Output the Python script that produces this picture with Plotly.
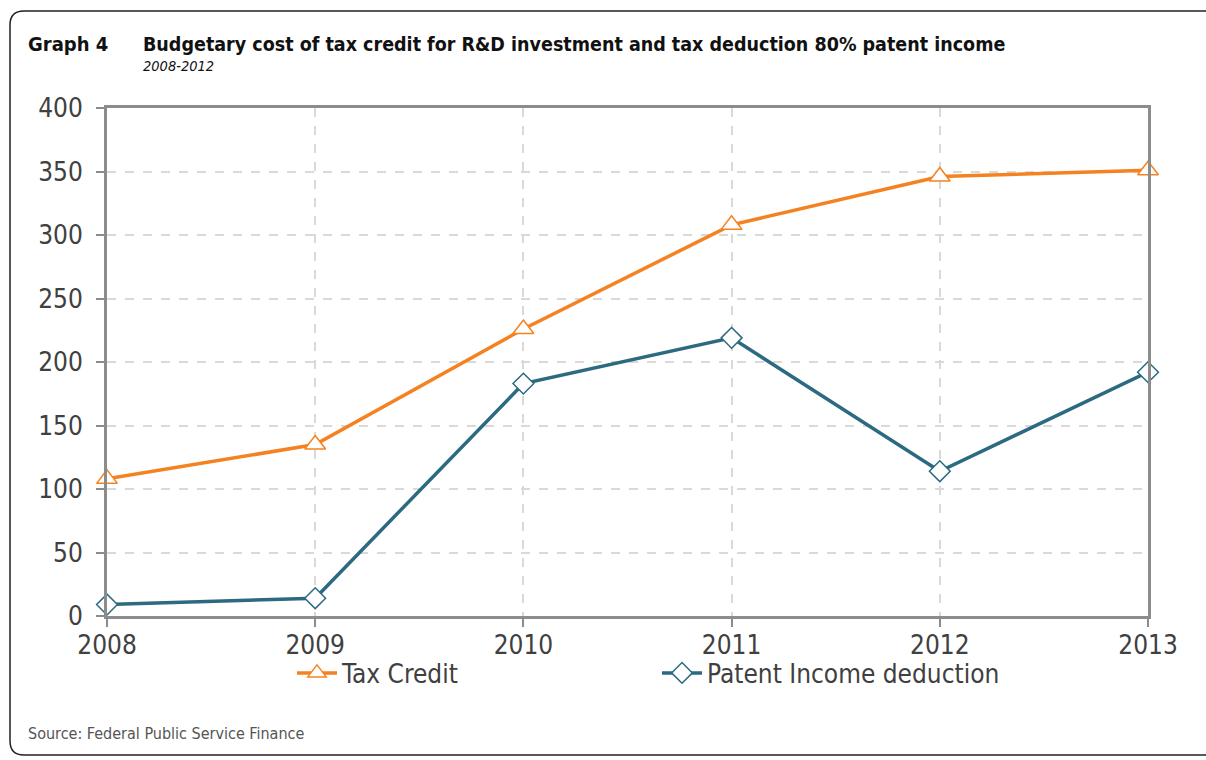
import plotly.graph_objects as go

years = [2008, 2009, 2010, 2011, 2012, 2013]
tax_credit = [108, 135, 226, 308, 346, 351]
patent_income = [9, 14, 183, 219, 114, 192]
y_ticks = [0, 50, 100, 150, 200, 250, 300, 350, 400]

W, H = 1206, 760
L, R, T, B = 107, 58, 108, 144
pw, ph = W - L - R, H - T - B

def px(x):
    return (x - L) / pw

def py(y):
    return (H - B - y) / ph

FONT = "DejaVu Sans Condensed, DejaVu Sans, sans-serif"
ORANGE = "#F58220"
TEAL = "#2B6A80"

fig = go.Figure()
fig.add_trace(go.Scatter(
    x=years, y=tax_credit, name="Tax Credit", mode="lines+markers",
    line=dict(color=ORANGE, width=3.5),
    marker=dict(symbol="triangle-up", size=18, color="white", line=dict(color=ORANGE, width=1.5)),
    cliponaxis=False,
))
fig.add_trace(go.Scatter(
    x=years, y=patent_income, name="Patent Income deduction", mode="lines+markers",
    line=dict(color=TEAL, width=3.5),
    marker=dict(symbol="diamond", size=16, color="white", line=dict(color=TEAL, width=1.5)),
    cliponaxis=False,
))

# rounded frame
x0, x1 = px(10), px(1215)
y0, y1 = py(11), py(755)
rx, ry = 14 / pw, 14 / ph
path = (f"M {x1},{y0} L {x0 + rx},{y0} Q {x0},{y0} {x0},{y0 - ry} "
        f"L {x0},{y1 + ry} Q {x0},{y1} {x0 + rx},{y1} L {x1},{y1}")
fig.add_shape(type="path", path=path, xref="paper", yref="paper",
              line=dict(color="#222222", width=1.5))

fig.add_annotation(text="<b>Graph 4</b>", x=px(26), y=py(44), xref="paper", yref="paper",
                   xanchor="left", yanchor="middle", showarrow=False,
                   font=dict(family=FONT, size=20, color="#111111"))
fig.add_annotation(text="<b>Budgetary cost of tax credit for R&D investment and tax deduction 80% patent income</b>",
                   x=px(141), y=py(44), xref="paper", yref="paper",
                   xanchor="left", yanchor="middle", showarrow=False,
                   font=dict(family=FONT, size=19.5, color="#111111"))
fig.add_annotation(text="<i>2008-2012</i>", x=px(141), y=py(66), xref="paper", yref="paper",
                   xanchor="left", yanchor="middle", showarrow=False,
                   font=dict(family=FONT, size=14.5, color="#111111"))
fig.add_annotation(text="Source: Federal Public Service Finance", x=px(26), y=py(733),
                   xref="paper", yref="paper", xanchor="left", yanchor="middle", showarrow=False,
                   font=dict(family=FONT, size=16, color="#555555"))

fig.update_layout(
    width=W, height=H,
    margin=dict(l=L, r=R, t=T, b=B, autoexpand=False),
    paper_bgcolor="white", plot_bgcolor="white",
    showlegend=True,
    legend=dict(orientation="h", x=px(292), xanchor="left", y=py(673), yanchor="middle",
                font=dict(family=FONT, size=26, color="#404040"),
                entrywidth=310, entrywidthmode="pixels", itemwidth=40,
                bgcolor="rgba(0,0,0,0)"),
    font=dict(family=FONT, color="#404040"),
)
fig.update_xaxes(
    range=[2008, 2013], tickmode="array", tickvals=years, ticktext=[str(y) for y in years],
    showgrid=True, gridcolor="#d9d9d9", griddash="dash", gridwidth=1.5,
    showline=True, linecolor="#8c8c8c", linewidth=3, mirror=True,
    ticks="outside", ticklen=8, tickcolor="#8c8c8c", tickwidth=2, ticklabelstandoff=-4,
    tickfont=dict(family=FONT, size=26, color="#404040"), zeroline=False,
)
fig.update_yaxes(
    range=[0, 400], tickmode="array", tickvals=y_ticks, ticktext=[str(v) for v in y_ticks],
    showgrid=True, gridcolor="#d9d9d9", griddash="dash", gridwidth=1.5,
    showline=True, linecolor="#8c8c8c", linewidth=3, mirror=True,
    ticks="outside", ticklen=8, tickcolor="#8c8c8c", tickwidth=2, ticklabelstandoff=8,
    tickfont=dict(family=FONT, size=26, color="#404040"), zeroline=False,
)

fig.write_html("out.html", config={"displayModeBar": False},
               post_script="document.body.style.margin='0px';")
